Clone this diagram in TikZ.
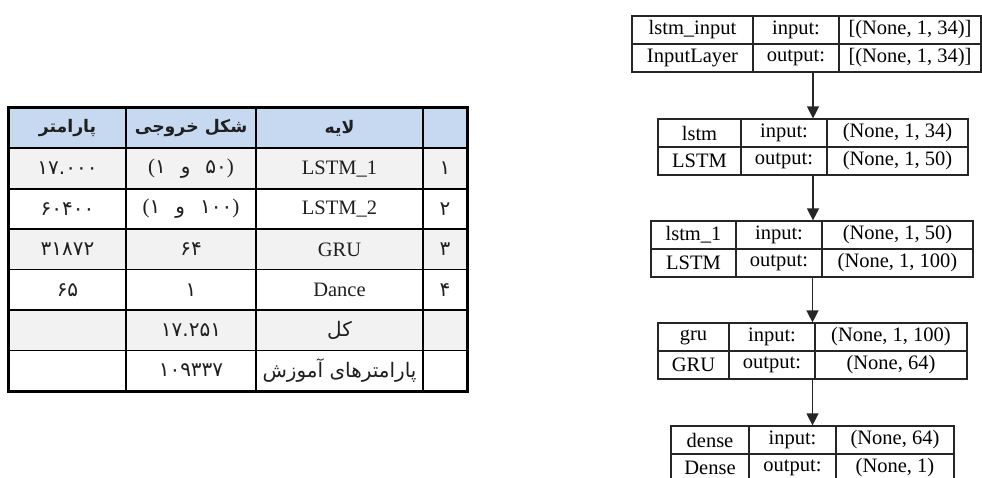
\documentclass[tikz,border=0pt]{standalone}
\usepackage{fontspec}
\setmainfont{Liberation Serif}
\newfontfamily\fa[Script=Arabic]{DejaVu Sans}
\usetikzlibrary{arrows.meta}
\TeXXeTstate=1
\definecolor{hdr}{RGB}{198,217,241}
\definecolor{rowg}{RGB}{242,242,242}
\newcommand\pshape[2]{{\fontsize{21}{24}\rmfamily(}{\fa #1}\hspace{15pt}{\fa و}\hspace{15pt}{\fa #2}{\fontsize{21}{24}\rmfamily)}}
\begin{document}
\begin{tikzpicture}[x=1pt,y=-1pt,
  cell/.style={draw=black, line width=1.8pt, minimum height=40.4pt, inner sep=0pt, anchor=center, text=black!88},
  lat/.style={font=\fontsize{20.5}{23}\selectfont},
  per/.style={font=\fa\fontsize{20}{23}\selectfont},
  perb/.style={font=\fa\bfseries\fontsize{17.3}{20}\selectfont},
  kbox/.style={draw=black!85, line width=1.2pt, inner sep=0pt},
  ktext/.style={font=\fontsize{20.5}{24}\selectfont, inner sep=0pt, anchor=center},
  kline/.style={draw=black!85, line width=1.2pt},
  arr/.style={draw=black!85, line width=1.3pt, -{Triangle[width=12pt,length=12pt]}}
]
\useasboundingbox (0,0) rectangle (982,478);

% ---------- table ----------
\tikzset{
  c1/.style={cell, minimum width=117pt},
  c2/.style={cell, minimum width=130pt},
  c3/.style={cell, minimum width=167pt},
  c4/.style={cell, minimum width=44pt}}
% header
\node[c1, fill=hdr, perb] (h1) at (67.5,128.2) {پارامتر};
\node[c2, fill=hdr, perb] (h2) at (191,128.2) {\beginR شکل خروجی\endR};
\node[c3, fill=hdr, perb] (h3) at (339.5,128.2) {لایه};
\node[c4, fill=hdr] (h4) at (445,128.2) {};
% row 1
\node[c1, fill=rowg, per] (r1a) at (67.5,168.6) {۱۷.۰۰۰};
\node[c2, fill=rowg, per] (r1b) at (191,168.6) {\pshape{۱}{۵۰}};
\node[c3, fill=rowg, lat] (r1c) at (339.5,168.6) {LSTM\_1};
\node[c4, fill=rowg, per] (r1d) at (445,168.6) {۱};
% row 2
\node[c1, fill=white, per] (r2a) at (67.5,209) {۶۰۴۰۰};
\node[c2, fill=white, per] (r2b) at (191,209) {\pshape{۱}{۱۰۰}};
\node[c3, fill=white, lat] (r2c) at (339.5,209) {LSTM\_2};
\node[c4, fill=white, per] (r2d) at (445,209) {۲};
% row 3
\node[c1, fill=rowg, per] (r3a) at (67.5,249.4) {۳۱۸۷۲};
\node[c2, fill=rowg, per] (r3b) at (191,249.4) {۶۴};
\node[c3, fill=rowg, lat] (r3c) at (339.5,249.4) {GRU};
\node[c4, fill=rowg, per] (r3d) at (445,249.4) {۳};
% row 4
\node[c1, fill=white, per] (r4a) at (67.5,289.8) {۶۵};
\node[c2, fill=white, per] (r4b) at (191,289.8) {۱};
\node[c3, fill=white, lat] (r4c) at (339.5,289.8) {Dance};
\node[c4, fill=white, per] (r4d) at (445,289.8) {۴};
% row 5
\node[c1, fill=rowg] (r5a) at (67.5,330.2) {};
\node[c2, fill=rowg, per] (r5b) at (191,330.2) {۱۷.۲۵۱};
\node[c3, fill=rowg, per] (r5c) at (339.5,330.2) {کل};
\node[c4, fill=rowg] (r5d) at (445,330.2) {};
% row 6
\node[c1, fill=white] (r6a) at (67.5,370.6) {};
\node[c2, fill=white, per] (r6b) at (191,370.6) {۱۰۹۳۳۷};
\node[c3, fill=white, per] (r6c) at (339.5,370.6) {\beginR پارامترهای آموزش\endR};
\node[c4, fill=white] (r6d) at (445,370.6) {};
% outer border
\draw[line width=2.4pt] (h1.north west) rectangle (r6d.south east);

% ---------- model diagram ----------
\foreach \n/\L/\R/\T/\A/\B/\na/\cl/\ins/\outs in {
  1/632/981/16/753/839/{lstm\_input}/{InputLayer}/{[(None, 1, 34)]}/{[(None, 1, 34)]},
  2/658/968/119/741/827/{lstm}/{LSTM}/{(None, 1, 34)}/{(None, 1, 50)},
  3/651/973/221/736/822/{lstm\_1}/{LSTM}/{(None, 1, 50)}/{(None, 1, 100)},
  4/658/967/323/729/815/{gru}/{GRU}/{(None, 1, 100)}/{(None, 64)},
  5/671/954/426/749/836/{dense}/{Dense}/{(None, 64)}/{(None, 1)}}{
  \pgfmathsetmacro\boxw{\R-\L}
  \pgfmathsetmacro\cx{(\L+\R)/2}
  \pgfmathsetmacro\my{\T+28}
  \node[kbox, minimum width=\boxw pt, minimum height=56pt] (b\n) at (\cx,\my) {};
  \draw[kline] (\L,\my) -- (\R,\my);
  \draw[kline] (\A,\T) -- (\A,\T+56);
  \draw[kline] (\B,\T) -- (\B,\T+56);
  \node[ktext] (n\n) at ({(\L+\A)/2},\T+14) {\na};
  \node[ktext] (c\n) at ({(\L+\A)/2},\T+42) {\cl};
  \node[ktext] (i\n) at ({(\A+\B)/2},\T+14) {input:};
  \node[ktext] (o\n) at ({(\A+\B)/2},\T+42) {output:};
  \node[ktext] (s\n) at ({(\B+\R)/2},\T+14) {\ins};
  \node[ktext] (t\n) at ({(\B+\R)/2},\T+42) {\outs};
}
\draw[arr] (b1.south -| b2.north) -- (b2.north);
\draw[arr] (b2.south) -- (b2.south |- b3.north);
\draw[arr] (b3.south -| b4.north) -- (b4.north);
\draw[arr] (b4.south) -- (b4.south |- b5.north);
\end{tikzpicture}
\end{document}
